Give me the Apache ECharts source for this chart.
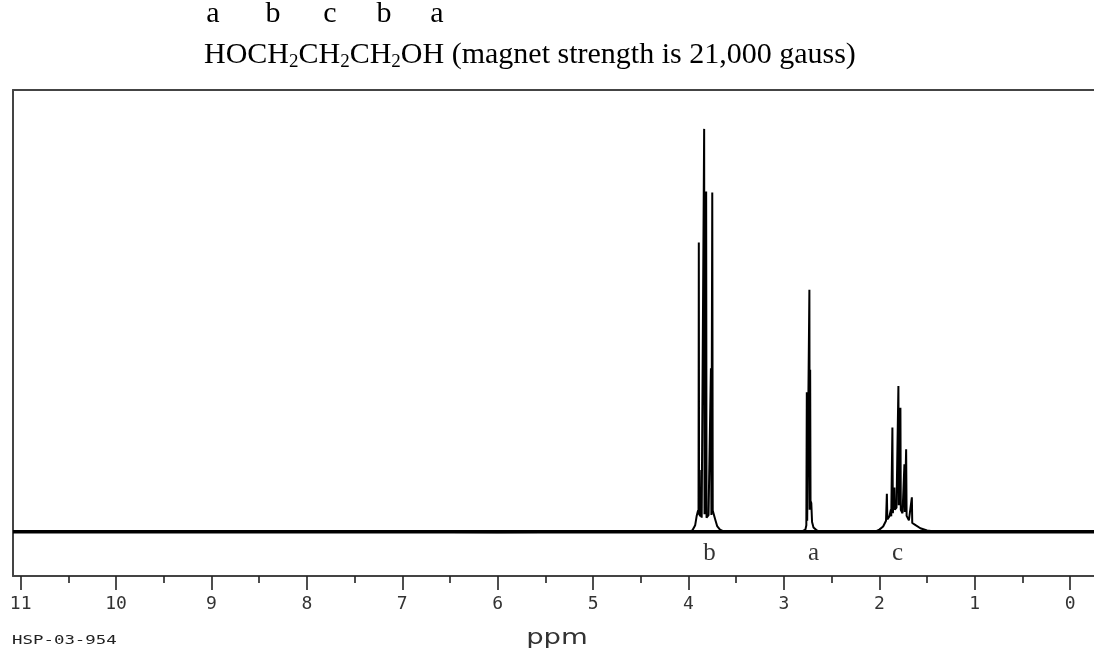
<!DOCTYPE html>
<html><head><meta charset="utf-8">
<script src="https://cdn.jsdelivr.net/npm/echarts@6/dist/echarts.min.js"></script>
<style>html,body{margin:0;padding:0;background:#fff}#c{width:1094px;height:650px}</style>
</head><body><div id="c"></div>
<script>
// ---- data (ppm, intensity) ----
const ppmRange = [-0.25, 11.08];
const tickValues = [0,1,2,3,4,5,6,7,8,9,10,11];
const tickLabels = ['0','1','2','3','4','5','6','7','8','9','10','11'];
const baselineLeft = [[11.08,0],[8.5,0.2],[6.0,-0.1],[4.6,0.1],[4.0,0]];
const clusterB = [[3.96,0.3],[3.93,1.5],[3.915,3.5],[3.90,4.8],[3.895,4.2],[3.892,65.5],[3.889,4],[3.872,3.5],[3.866,14],[3.862,3.2],[3.845,3.6],[3.836,91.2],[3.832,4],[3.815,77],[3.811,3.2],[3.79,3.8],[3.765,37],[3.760,3.8],[3.751,76.8],[3.746,4.8],[3.735,4.8],[3.72,2.8],[3.70,1.3],[3.67,0.5],[3.62,0]];
const baselineMid1 = [[3.3,0.1],[2.85,0]];
const clusterA = [[2.80,0.2],[2.775,0.5],[2.765,1.5],[2.760,31.6],[2.756,2.5],[2.745,2.8],[2.733,54.8],[2.730,5],[2.725,36.7],[2.721,7],[2.713,6.5],[2.705,2.2],[2.69,1],[2.66,0.4],[2.62,0]];
const baselineMid2 = [[2.35,0.1],[2.05,0]];
const clusterC = [[2.0,0.5],[1.96,1.2],[1.93,2.5],[1.921,8.6],[1.916,2.8],[1.895,3.5],[1.879,5],[1.875,3.5],[1.863,23.6],[1.858,4.2],[1.842,10],[1.838,5],[1.820,5.5],[1.800,33],[1.796,6],[1.779,28.1],[1.775,5],[1.757,4.2],[1.737,15.3],[1.733,4.5],[1.719,18.7],[1.714,3.6],[1.69,2.6],[1.659,7.8],[1.655,2],[1.62,1.5],[1.57,0.8],[1.5,0.3],[1.4,0]];
const baselineRight = [[0.8,0.1],[-0.25,0]];
const peakLabels = ['b','a','c'];
const peakLabelPpm = [3.78, 2.69, 1.81];
const peakLabelY = -4.9;
const titleLetters = ['a','b','c','b','a'];

const trace = [].concat(baselineLeft, clusterB, baselineMid1, clusterA, baselineMid2, clusterC, baselineRight);

// layout constants
const W = 1094, frameLeft = 13, frameTop = 90, axisY = 576;
const pxPerPpm = (W - frameLeft) / (ppmRange[1] - ppmRange[0]);
const tickLeft = frameLeft + (ppmRange[1] - 11) * pxPerPpm;
const tickRight = W - (frameLeft + (ppmRange[1] - 0) * pxPerPpm);

const chart = echarts.init(document.getElementById('c'), null, {renderer:'canvas'});
const frameLine = {show:true, onZero:false, lineStyle:{color:'#444', width:2}};
const serif = '"Liberation Serif", "Times New Roman", serif';
const titleX = [213, 273, 330, 384, 437];

chart.setOption({
  animation:false,
  backgroundColor:'#fff',
  grid:[
    {left:frameLeft, top:frameTop, right:0, bottom:650-axisY},
    {left:tickLeft, top:frameTop, right:tickRight, bottom:650-axisY}
  ],
  xAxis:[
    {type:'value', gridIndex:0, inverse:true, min:ppmRange[0], max:ppmRange[1], position:'bottom',
     axisLine:frameLine, axisTick:{show:false}, axisLabel:{show:false}, splitLine:{show:false}},
    {type:'value', gridIndex:0, inverse:true, min:ppmRange[0], max:ppmRange[1], position:'top',
     axisLine:frameLine, axisTick:{show:false}, axisLabel:{show:false}, splitLine:{show:false}},
    {type:'value', gridIndex:1, inverse:true, min:tickValues[0], max:tickValues[tickValues.length-1], interval:1, position:'bottom',
     axisLine:{show:false, onZero:false},
     axisTick:{show:true, length:14, lineStyle:{color:'#222', width:1.6}},
     minorTick:{show:true, splitNumber:2, length:7, lineStyle:{color:'#222', width:1.6}},
     axisLabel:{show:true, margin:19, fontFamily:'"DejaVu Sans Mono", monospace', fontSize:18, color:'#333',
       formatter:(v)=>{const i=tickValues.indexOf(Math.round(v)); return i>=0?tickLabels[i]:'';}},
     splitLine:{show:false}}
  ],
  yAxis:[
    {type:'value', gridIndex:0, min:-10, max:100, position:'left', axisLine:frameLine, axisTick:{show:false}, axisLabel:{show:false}, splitLine:{show:false}},
    {type:'value', gridIndex:1, min:-10, max:100, show:false}
  ],
  series:[
    {type:'line', xAxisIndex:0, yAxisIndex:0, data:[[ppmRange[1],0],[ppmRange[0],0]], showSymbol:false, silent:true,
     lineStyle:{color:'#000', width:3.4}},
    {type:'line', xAxisIndex:0, yAxisIndex:0, data:trace, showSymbol:false, silent:true,
     lineStyle:{color:'#000', width:2}},
    {type:'scatter', xAxisIndex:0, yAxisIndex:0, symbolSize:0, silent:true,
     data:peakLabels.map((t,i)=>({value:[peakLabelPpm[i], peakLabelY], name:t})),
     label:{show:true, position:'inside', formatter:(p)=>p.name, fontFamily:serif, fontSize:25, color:'#000'}}
  ],
  graphic:[].concat(
    titleLetters.map((t,i)=>({type:'text', x:titleX[i], y:14, style:{text:t, font:'30px '+serif, fill:'#000', textAlign:'center', textVerticalAlign:'middle'}})),
    [{type:'text', x:204, y:55, style:{
      text:'{n|HOCH}{s|2}{n|CH}{s|2}{n|CH}{s|2}{n|OH (magnet strength is 21,000 gauss)}',
      textVerticalAlign:'middle',
      rich:{n:{fontFamily:serif, fontSize:30, fill:'#000', color:'#000'},
            s:{fontFamily:serif, fontSize:19, fill:'#000', color:'#000', padding:[14,0,0,0]}}
    }},
    {type:'text', x:12, y:641, scaleX:1.45, style:{text:'HSP-03-954', font:'12px "DejaVu Sans Mono", monospace', fill:'#222', textVerticalAlign:'middle'}},
    {type:'text', x:557, y:638, scaleX:1.25, style:{text:'ppm', font:'22px "DejaVu Sans", sans-serif', fill:'#333', textAlign:'center', textVerticalAlign:'middle'}}]
  )
});
</script></body></html>
